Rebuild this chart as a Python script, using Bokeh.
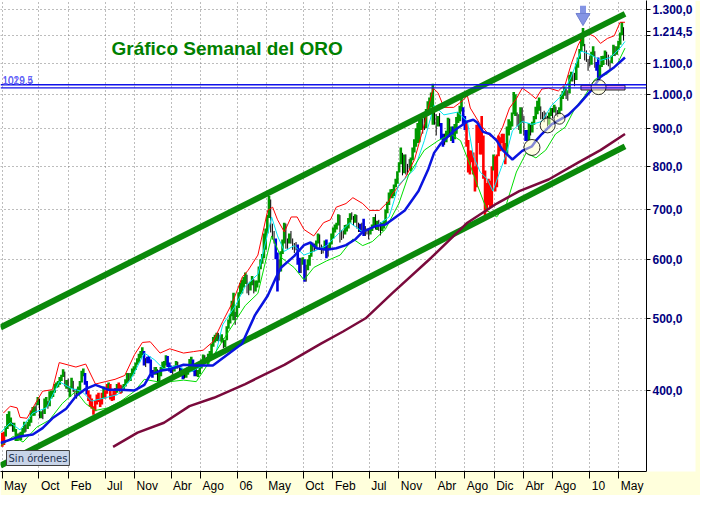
import numpy as np
import pandas as pd
from bokeh.plotting import figure
from bokeh.models import Range1d, FixedTicker, Label, Span, ColumnDataSource, LinearAxis
from bokeh.embed import file_html
from bokeh.resources import INLINE

# ---------------- data (weekly gold) ----------------
start_date = "2003-05-02"
first_open = 348.0

high = [
    351, 352, 358, 372, 375,  368, 362, 362, 355,  350, 351, 352, 356,
    363, 360, 363, 366, 376,  380, 381, 385, 392,  390, 375, 377, 390, 392,
    387, 399, 400, 400,  408, 410, 412, 417,
    # 2004
    420, 427, 424, 413, 415,  405, 416, 412, 402,  402, 405, 412, 425,
    428, 422, 412, 400, 395,  390, 381, 388, 395,  397, 390, 397, 405,
    400, 408, 410, 408, 395,  400, 403, 408, 410,  407, 406, 408, 414,
    422, 422, 422, 428, 431,  436, 442, 448, 452,  457, 452, 442, 444, 445,
    # 2005
    440, 426, 430, 430,  427, 424, 430, 437,  438, 446, 445, 436,
    432, 430, 432, 438, 437,  432, 429, 422, 422,  428, 430, 441, 444,
    440, 428, 428, 426, 432,  440, 447, 446, 443,  448, 452, 462, 472, 475,
    478, 478, 475, 476,  470, 468, 488, 498,  507, 528, 541, 510, 520,
    # 2006
    542, 558, 563, 568,  576, 572, 557, 560,  570, 564, 562, 562, 587,
    600, 610, 650, 660,  688, 730, 722, 670,  655, 640, 613, 600, 615,
    638, 672, 670, 640,  650, 655, 640, 631,  633, 628, 603, 602, 604,
    600, 590, 600, 608,  630, 632, 630, 636,  650, 648, 628, 625, 636,
    # 2007
    638, 628, 632, 650,  662, 668, 672, 690,  688, 657, 656, 667, 668,
    682, 692, 694, 686,  690, 688, 672, 670,  672, 680, 665, 660, 657,
    660, 668, 684, 690,  676, 678, 673, 672, 676,  700, 717, 738, 745,
    746, 756, 770, 788,  810, 848, 834, 830, 830,  806, 818, 822, 848,
    # 2008
    870, 900, 915, 925,  935, 926, 932, 955, 978,  990, 1005, 1033, 950,
    940, 935, 943, 915,  885, 885, 893, 930, 927,  905, 905, 912, 932,
    946, 965, 988, 960,  935, 915, 868, 840, 840,  835, 800, 910, 908,
    905, 935, 880, 790, 760,  770, 765, 800, 830,  825, 830, 880, 875,
    # 2009
    885, 885, 860, 905, 925,  920, 945, 1007, 1000,  945, 940, 960, 960,
    935, 895, 895, 915,  910, 918, 935, 962, 980,  990, 963, 946, 950,
    945, 935, 945, 958, 958,  968, 962, 952, 960,  998, 1010, 1024, 1018,
    1012, 1062, 1072, 1070, 1068,  1100, 1120, 1150, 1195,  1227, 1168, 1145, 1115,
    # 2010
    1125, 1140, 1160, 1142, 1105,  1120, 1095, 1125, 1126,  1145, 1140, 1130, 1110,
    1127, 1165, 1160, 1160, 1180,  1210, 1250, 1230,
]

low = [
    336, 338, 347, 355, 358,  358, 352, 352, 342,  342, 343, 343, 348,
    351, 352, 355, 358, 362,  370, 370, 373, 382,  367, 367, 366, 372, 380,
    378, 381, 390, 392,  397, 403, 404, 407,
    # 2004
    412, 417, 405, 402, 398,  392, 402, 398, 393,  390, 395, 399, 410,
    418, 407, 395, 387, 380,  378, 371, 375, 383,  386, 380, 383, 390,
    390, 396, 400, 389, 387,  388, 394, 397, 400,  396, 397, 400, 405,
    409, 411, 412, 418, 421,  426, 433, 436, 442,  446, 432, 430, 435, 435,
    # 2005
    418, 416, 420, 420,  411, 410, 418, 426,  428, 432, 430, 424,
    422, 420, 424, 428, 428,  423, 418, 414, 415,  416, 420, 425, 434,
    424, 418, 418, 417, 421,  428, 435, 436, 435,  433, 443, 446, 458, 464,
    466, 465, 466, 464,  456, 457, 467, 484,  492, 503, 497, 490, 502,
    # 2006
    516, 538, 540, 550,  556, 540, 537, 545,  554, 540, 543, 550, 558,
    582, 592, 602, 618,  650, 682, 652, 638,  630, 600, 543, 562, 578,
    610, 630, 620, 620,  630, 630, 618, 612,  617, 590, 575, 575, 590,
    560, 560, 580, 588,  605, 614, 615, 620,  630, 620, 610, 611, 618,
    # 2007
    602, 605, 620, 628,  640, 652, 658, 666,  632, 637, 640, 648, 654,
    660, 672, 678, 666,  672, 660, 653, 653,  655, 645, 645, 648, 638,
    648, 655, 664, 658,  657, 655, 646, 655, 660,  670, 692, 710, 726,
    725, 730, 750, 758,  785, 805, 778, 783, 780,  780, 792, 788, 815,
    # 2008
    835, 850, 860, 862,  895, 885, 895, 900, 936,  955, 960, 910, 910,
    880, 905, 905, 870,  850, 855, 862, 875, 876,  865, 860, 870, 885,
    915, 920, 948, 910,  895, 850, 785, 780, 810,  780, 740, 750, 860,
    830, 830, 770, 680, 695,  710, 705, 705, 790,  740, 750, 825, 838,
    # 2009
    860, 840, 805, 830, 880,  895, 905, 940, 935,  905, 895, 885, 915,
    880, 865, 866, 868,  880, 888, 910, 925, 940,  950, 925, 926, 917,
    925, 905, 910, 935, 928,  945, 935, 932, 940,  950, 985, 995, 985,
    980, 1002, 1040, 1040, 1025,  1045, 1085, 1115, 1140,  1160, 1110, 1105, 1075,
    # 2010
    1090, 1095, 1125, 1085, 1075,  1045, 1055, 1088, 1094,  1112, 1095, 1090, 1080,
    1100, 1125, 1125, 1130, 1147,  1165, 1200, 1180,
]

close = [
    340, 349, 356, 369, 361,  365, 356, 355, 346,  348, 345, 350, 352,
    358, 357, 360, 363, 375,  378, 375, 383, 388,  370, 372, 371, 387, 384,
    381, 397, 395, 398,  405, 408, 410, 414,
    # 2004
    418, 424, 409, 410, 400,  403, 414, 400, 397,  399, 400, 409, 422,
    422, 410, 400, 390, 387,  380, 375, 386, 393,  390, 384, 395, 403,
    396, 406, 407, 391, 392,  398, 401, 404, 404,  399, 404, 407, 410,
    419, 416, 421, 425, 429,  433, 439, 446, 450,  451, 435, 441, 442, 438,
    # 2005
    420, 423, 428, 422,  414, 421, 428, 435,  434, 442, 433, 426,
    428, 425, 428, 435, 434,  426, 420, 418, 418,  425, 425, 438, 440,
    426, 422, 420, 425, 429,  436, 445, 440, 438,  446, 449, 460, 469, 472,
    472, 468, 469, 470,  460, 466, 486, 495,  504, 525, 503, 503, 517,
    # 2006
    540, 550, 556, 566,  570, 545, 548, 555,  566, 543, 556, 558, 583,
    597, 600, 632, 654,  683, 720, 660, 650,  645, 612, 571, 583, 612,
    632, 663, 629, 633,  647, 639, 620, 624,  625, 594, 585, 597, 599,
    563, 584, 596, 604,  627, 625, 625, 632,  646, 627, 620, 620, 632,
    # 2007
    607, 626, 627, 646,  656, 664, 666, 683,  644, 650, 652, 660, 663,
    677, 687, 683, 675,  680, 664, 664, 658,  665, 651, 652, 655, 650,
    656, 666, 680, 663,  672, 670, 662, 668, 673,  698, 712, 735, 743,
    737, 754, 762, 785,  806, 833, 785, 825, 783,  800, 797, 815, 845,
    # 2008
    862, 895, 880, 915,  910, 922, 906, 946, 972,  980, 1000, 920, 935,
    912, 925, 915, 885,  855, 880, 877, 925, 886,  900, 870, 905, 928,
    932, 962, 955, 925,  912, 865, 790, 830, 830,  800, 760, 865, 882,
    835, 860, 785, 715, 718,  742, 745, 795, 815,  752, 822, 843, 872,
    # 2009
    865, 855, 840, 900, 920,  913, 943, 992, 942,  940, 930, 955, 925,
    898, 880, 870, 910,  887, 915, 930, 955, 976,  960, 940, 932, 940,
    932, 912, 938, 953, 953,  955, 945, 948, 955,  994, 1005, 1012, 992,
    1003, 1050, 1051, 1055, 1045,  1095, 1118, 1143, 1176,  1165, 1122, 1112, 1104,
    # 2010
    1096, 1138, 1140, 1090, 1082,  1050, 1092, 1118, 1118,  1134, 1104, 1105, 1106,
    1125, 1162, 1135, 1155, 1178,  1205, 1228, 1214.5,
]

# bar class per week: g=green, r=red, b=blue, k=black
bar_kind = "".join([
    "rrggg", "gkgg", "gkgg", "gkggg", "ggkg", "kgkgg", "kggg", "gggg",
    "ggkgk", "ggkk", "kggg", "gbbrr", "rrrr", "rrrg", "rrgrr", "rrgr", "rkgg", "gkggg", "gggg", "gbkbb",
    "bbkg", "kggg", "ggbb", "bkggk", "kbbk", "gggg", "bbkgg", "ggkk", "ggggg", "gkkg", "kggg", "gggkg",
    "gggg", "gkkg", "gkggg", "gggg", "ggkk", "kbbkg", "ggkk", "gkkk", "kbbkg", "bkgg", "gkkg", "gkkkg",
    "bkgg", "gggg", "kkkgg", "ggkk", "gkkb", "kbkkk", "gggk", "gkkgg", "gggg", "gggg", "ggkgk", "kkgg",
    "gggg", "gkkgg", "gggk", "kgkb", "bkggk", "gbgg", "gggb", "brrrr", "rrrr", "rrrrr", "rrrg", "rrrr",
    "rrrgg", "gggg", "kkgk", "kbbg", "kgggg", "gkkk", "kkggk", "gkkg", "gggk", "kggkk", "gggg", "gkkk",
    "kggkb", "bggg", "gkkk", "ggkgg", "ggk",
])

tick_dates = ["2003-05-01", "2003-10-01", "2004-02-01", "2004-07-01", "2004-11-01",
              "2005-04-01", "2005-08-01", "2006-01-01", "2006-05-01", "2006-10-01",
              "2007-02-01", "2007-07-01", "2007-11-01", "2008-04-01", "2008-08-01",
              "2008-12-01", "2009-04-01", "2009-08-01", "2010-01-01", "2010-05-01"]
tick_labels = ["May", "Oct", "Feb", "Jul", "Nov", "Abr", "Ago", "06", "May", "Oct",
               "Feb", "Jul", "Nov", "Abr", "Ago", "Dic", "Abr", "Ago", "10", "May"]
price_ticks = [400, 500, 600, 700, 800, 900, 1000, 1100, 1200, 1300]

# (decimal year, price) pairs
ma_fast = [(2003.311, 340), (2003.533, 347), (2003.678, 349), (2003.789, 356), (2003.9, 367),
           (2004.056, 378), (2004.167, 393), (2004.278, 402), (2004.389, 407), (2004.533, 401),
           (2004.678, 401), (2004.833, 400), (2004.944, 407), (2005.011, 420), (2005.122, 425),
           (2005.233, 427), (2005.389, 433), (2005.533, 432), (2005.722, 432), (2006.052, 462),
           (2006.2, 505), (2006.344, 536), (2006.441, 568), (2006.497, 585), (2006.644, 606),
           (2006.756, 627), (2006.83, 632), (2006.9, 621), (2007.011, 618), (2007.122, 621),
           (2007.233, 627), (2007.344, 639), (2007.422, 653), (2007.567, 665), (2007.678, 668),
           (2007.756, 678), (2007.9, 698), (2008.056, 741), (2008.167, 793), (2008.233, 834),
           (2008.311, 859), (2008.456, 893), (2008.611, 919), (2008.678, 924), (2008.722, 916),
           (2008.789, 890), (2008.867, 884), (2008.944, 866), (2009.011, 841), (2009.122, 817),
           (2009.233, 839), (2009.344, 851), (2009.389, 866), (2009.456, 884), (2009.567, 911),
           (2009.756, 938), (2009.867, 966), (2010.011, 1010), (2010.122, 1055), (2010.278, 1087),
           (2010.4, 1120)]
ma_slow = [(2004.589, 336), (2004.867, 351), (2005.167, 362), (2005.456, 381), (2005.733, 391),
           (2006.089, 408), (2006.533, 433), (2006.944, 462), (2007.2, 480), (2007.456, 500),
           (2007.756, 540), (2008.2, 603), (2008.611, 672), (2008.944, 713), (2009.2, 741),
           (2009.533, 768), (2009.867, 809), (2010.122, 841), (2010.4, 884)]
env_upper = [(2003.344, 373), (2003.422, 381), (2003.5, 379), (2003.533, 368), (2003.611, 367),
             (2003.678, 379), (2003.789, 399), (2003.9, 401), (2003.978, 436), (2004.167, 430),
             (2004.278, 434), (2004.389, 408), (2004.5, 411), (2004.611, 414), (2004.722, 419),
             (2004.833, 447), (2004.922, 464), (2005.011, 465), (2005.122, 449), (2005.233, 455),
             (2005.389, 449), (2005.5, 451), (2005.611, 453), (2005.722, 465), (2005.833, 495),
             (2005.944, 525), (2006.056, 568), (2006.122, 580), (2006.233, 608), (2006.344, 698),
             (2006.4, 705), (2006.456, 678), (2006.533, 653), (2006.611, 684), (2006.678, 684),
             (2006.756, 658), (2006.867, 645), (2006.978, 672), (2007.056, 678), (2007.122, 705),
             (2007.233, 713), (2007.311, 726), (2007.422, 713), (2007.5, 698), (2007.611, 698),
             (2007.722, 719), (2007.756, 734), (2007.9, 770), (2008.011, 817), (2008.122, 911),
             (2008.222, 1019), (2008.278, 1004), (2008.344, 960), (2008.456, 960), (2008.556, 980),
             (2008.611, 995), (2008.644, 958), (2008.756, 911), (2008.867, 879), (2008.944, 871),
             (2009.011, 903), (2009.089, 958), (2009.167, 986), (2009.233, 1019), (2009.311, 1004),
             (2009.389, 986), (2009.456, 1016), (2009.533, 1019), (2009.644, 1010), (2009.722, 1031),
             (2009.789, 1097), (2009.867, 1163), (2009.944, 1212), (2010.056, 1195), (2010.122, 1170),
             (2010.2, 1188), (2010.278, 1198), (2010.344, 1249), (2010.4, 1249)]
env_mid = [(2003.311, 351), (2003.422, 362), (2003.533, 354), (2003.678, 373), (2003.833, 379),
           (2003.978, 411), (2004.122, 402), (2004.233, 399), (2004.344, 387), (2004.5, 391),
           (2004.644, 395), (2004.789, 414), (2004.944, 449), (2005.056, 440), (2005.167, 427),
           (2005.311, 432), (2005.456, 423), (2005.611, 432), (2005.756, 449), (2005.833, 490),
           (2005.978, 520), (2006.089, 552), (2006.233, 573), (2006.389, 684), (2006.456, 645),
           (2006.533, 615), (2006.644, 626), (2006.756, 608), (2006.867, 615), (2007.011, 626),
           (2007.167, 653), (2007.278, 672), (2007.422, 653), (2007.567, 664), (2007.722, 684),
           (2007.833, 756), (2008.011, 793), (2008.122, 866), (2008.233, 966), (2008.344, 938),
           (2008.5, 946), (2008.611, 919), (2008.678, 826), (2008.756, 786), (2008.833, 770),
           (2008.9, 741), (2008.978, 786), (2009.056, 834), (2009.122, 893), (2009.233, 919),
           (2009.344, 911), (2009.456, 919), (2009.567, 966), (2009.678, 995), (2009.789, 1055),
           (2009.9, 1143), (2010.011, 1130), (2010.122, 1110), (2010.233, 1120), (2010.344, 1153),
           (2010.4, 1177)]
env_lower = [(2003.311, 337), (2003.456, 347), (2003.567, 341), (2003.722, 357), (2003.867, 365),
             (2004.011, 384), (2004.167, 399), (2004.278, 384), (2004.389, 376), (2004.533, 379),
             (2004.678, 387), (2004.833, 399), (2004.944, 414), (2005.089, 411), (2005.233, 411),
             (2005.389, 413), (2005.533, 411), (2005.678, 436), (2005.9, 480), (2006.089, 520),
             (2006.233, 540), (2006.389, 645), (2006.5, 603), (2006.644, 585), (2006.756, 563),
             (2006.867, 585), (2007.011, 597), (2007.167, 608), (2007.311, 639), (2007.422, 626),
             (2007.533, 634), (2007.678, 658), (2007.833, 713), (2007.944, 779), (2008.122, 841),
             (2008.278, 866), (2008.422, 884), (2008.533, 866), (2008.644, 802), (2008.722, 756),
             (2008.833, 698), (2008.944, 684), (2009.056, 713), (2009.167, 786), (2009.278, 834),
             (2009.389, 821), (2009.5, 841), (2009.611, 884), (2009.722, 903), (2009.833, 958),
             (2009.944, 995), (2010.056, 1046), (2010.122, 1055), (2010.2, 1065), (2010.311, 1097),
             (2010.4, 1153)]
channel_upper = [(2003.311, 486), (2010.40, 1282)]
channel_lower = [(2003.311, 317), (2010.40, 851)]
resistance_levels = [1029.5, 1019.4]
resistance_texts = ["1029.5", "1019.4"]
signal_t = [2009.344, 2009.522, 2009.656, 2010.10]
signal_p = [848, 908, 927, 1022]
zone_t = [2009.90, 2010.40]
zone_p = [1013, 1028]
arrow_date = "2009-12-04"
title_text = "Gráfico Semanal del ORO"
status_text = "Sin órdenes"

# ---------------- helpers ----------------
def dec_year(d):
    d = pd.DatetimeIndex(d)
    days = np.where(d.is_leap_year, 366.0, 365.0)
    return np.asarray(d.year + (d.dayofyear - 1) / days, dtype=float)

def es_fmt(v):
    s = f"{v:,.1f}"
    return s.replace(",", "X").replace(".", ",").replace("X", ".")

# approximate advance widths (em units) of Liberation Sans, for label placement
CHAR_W = {"M": .833, "a": .556, "y": .5, "O": .778, "c": .5, "t": .278, "F": .611,
          "e": .556, "b": .556, "J": .5, "u": .556, "l": .222, "N": .722, "o": .556,
          "v": .5, "A": .667, "r": .333, "g": .556, "D": .722, "i": .222}
def text_w(s, size):
    return sum(CHAR_W.get(ch, .556) for ch in s) * size

n = len(close)
dates = pd.date_range(start_date, periods=n, freq="7D")
xw = dec_year(dates)
tick_x = [round(float(v), 5) for v in dec_year(pd.to_datetime(tick_dates))]

X0, X1 = 2003.311, 2010.644
Y0, Y1 = 311.3, 1336.0
W, H = 700, 495
RIGHT = 54
FRAME_W = W - RIGHT
px_per_year = FRAME_W / (X1 - X0)
LAB_SIZE = 12

p = figure(width=W, height=H, x_range=Range1d(X0, X1), y_range=Range1d(Y0, Y1),
           y_axis_type="log", y_axis_location="right", output_backend="svg",
           toolbar_location=None, min_border_left=0, min_border_top=0,
           min_border_right=RIGHT, min_border_bottom=0)
p.background_fill_color = "white"
p.border_fill_color = "#FFFFDC"
p.outline_line_color = None

# axis 1: tick marks at month starts
xa = p.xaxis[0]
xa.ticker = FixedTicker(ticks=tick_x)
xa.major_label_overrides = {t: "" for t in tick_x}
xa.major_label_text_font_size = "1px"
xa.major_label_standoff = 0
xa.major_tick_out = 7
xa.major_tick_in = 0
xa.minor_tick_out = 0
xa.minor_tick_in = 0
xa.axis_line_color = "black"
xa.major_tick_line_color = "black"

# axis 2: month names, starting just right of each tick
lab_x = [round(t + (2 + text_w(l, LAB_SIZE) / 2) / px_per_year, 5) for t, l in zip(tick_x, tick_labels)]
la = LinearAxis(ticker=FixedTicker(ticks=lab_x),
                major_label_overrides={x: l for x, l in zip(lab_x, tick_labels)},
                major_tick_out=0, major_tick_in=0, minor_tick_out=0, minor_tick_in=0,
                axis_line_color=None, major_label_standoff=0,
                major_label_text_font="Liberation Sans",
                major_label_text_font_size=f"{LAB_SIZE}px",
                major_label_text_color="black")
p.add_layout(la, "below")

last = close[-1]
ya = p.yaxis[0]
ya.ticker = FixedTicker(ticks=price_ticks + [last])
ov = {v: es_fmt(v) for v in price_ticks}
ov[1200] = ""
ov[last] = es_fmt(last)
ya.major_label_overrides = ov
ya.major_label_text_font = "Liberation Sans"
ya.major_label_text_font_style = "bold"
ya.major_label_text_font_size = "12px"
ya.major_label_text_color = "#000080"
ya.major_label_standoff = 2
ya.major_tick_out = 4
ya.major_tick_in = 0
ya.minor_tick_out = 0
ya.minor_tick_in = 0
ya.axis_line_color = "black"
ya.major_tick_line_color = "black"
ya.background_fill_color = "white"

p.xgrid.ticker = FixedTicker(ticks=tick_x)
p.ygrid.ticker = FixedTicker(ticks=price_ticks)
for g in (p.xgrid, p.ygrid):
    g.grid_line_color = "#7A7A7A"
    g.grid_line_dash = "1 3"
    g.grid_line_width = 1

# ---------------- bars (weekly range bars; thin for neutral weeks) ----------------
palette = {"g": "#009900", "r": "#FF0000", "b": "#0000E0", "k": "#000000"}
opens = [first_open] + close[:-1]
src = ColumnDataSource(dict(
    x=xw, hi=high, lo=low, op=opens, cl=close,
    color=[palette[c] for c in bar_kind],
    bw=[1 if c == "k" else 2.6 for c in bar_kind],
))
p.segment(x0="x", y0="lo", x1="x", y1="hi", line_color="color", line_width="bw", source=src)

def line(pairs, **kw):
    p.line([a for a, _ in pairs], [b for _, b in pairs], **kw)

line(env_upper, line_color="#FF0000", line_width=1)
line(env_mid, line_color="#00E5F0", line_width=1)
line(env_lower, line_color="#00DD00", line_width=1)
line(channel_upper, line_color="#0A890A", line_width=6)
line(channel_lower, line_color="#0A890A", line_width=6)
line(ma_slow, line_color="#7A0A3C", line_width=2.5)
line(ma_fast, line_color="#0A14E0", line_width=2.5)

for lvl in resistance_levels:
    p.add_layout(Span(location=lvl, dimension="width", line_color="#1010E8", line_width=1.3))
for i, txt in enumerate(resistance_texts):
    p.add_layout(Label(x=2, y=resistance_levels[0], x_units="screen", y_units="data",
                       text=txt, text_font="Liberation Sans", text_font_size="10px",
                       text_color=["#2020FF", "#6060E8"][i], text_baseline="bottom",
                       y_offset=1 - i, text_alpha=0.85))

p.quad(left=[zone_t[0]], right=[zone_t[1]], bottom=[zone_p[0]], top=[zone_p[1]],
       fill_color="#EE99EE", line_color="#202020", line_width=1)

p.scatter(signal_t, signal_p, marker="circle", size=[16, 15, 11, 15],
          fill_color="#FFFFC8", fill_alpha=0.5, line_color="black", line_width=0.8)

# arrow above the December 2009 top
pk = int(np.where(dates == pd.Timestamp(arrow_date))[0][0])
p.rect([xw[pk]], [high[pk] * 1.058], width=6, height=8, width_units="screen",
       height_units="screen", fill_color="#8494E4", line_color=None)
p.scatter([xw[pk]], [high[pk] * 1.033], marker="inverted_triangle", size=14,
          fill_color="#8494E4", line_color="#7080D0")

# ---------------- texts ----------------
p.add_layout(Label(x=111, y=423, x_units="screen", y_units="screen", text=title_text,
                   text_font="Liberation Sans", text_font_style="bold", text_font_size="19px",
                   text_color="#008000", text_baseline="alphabetic"))
p.add_layout(Label(x=6, y=6, x_units="screen", y_units="screen", text=status_text,
                   text_font="DejaVu Sans", text_font_size="10px", text_color="#203050",
                   background_fill_color="#C8D4E8", border_line_color="#404040",
                   padding=2))

open("out.html", "w").write(file_html(p, INLINE))
